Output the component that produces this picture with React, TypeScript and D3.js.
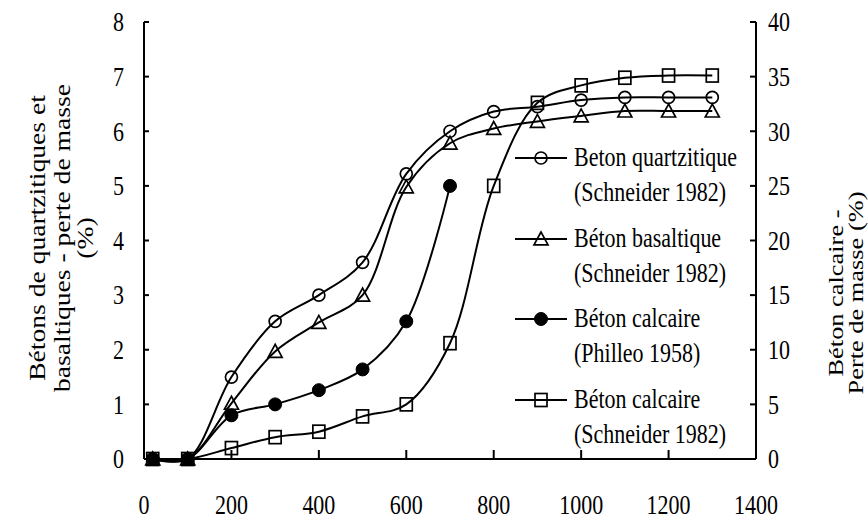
import React from "react";
import * as d3 from "d3";

const temps = [20, 100, 200, 300, 400, 500, 600, 700, 800, 900, 1000, 1100, 1200, 1300];
const quartzitique = [0, 0, 1.5, 2.52, 3.0, 3.6, 5.22, 6.0, 6.36, 6.45, 6.57, 6.62, 6.62, 6.62];
const basaltique = [0, 0, 1.02, 1.97, 2.5, 3.0, 4.98, 5.78, 6.05, 6.18, 6.28, 6.37, 6.37, 6.37];
const philleoTemps = [20, 100, 200, 300, 400, 500, 600, 700];
const calcairePhilleo = [0, 0, 4.0, 5.0, 6.3, 8.2, 12.6, 25.0];
const calcaireSchneider = [0, 0, 1.0, 2.0, 2.5, 3.9, 5.0, 10.6, 25.0, 32.6, 34.2, 34.9, 35.1, 35.1];

const xTicks = [0, 200, 400, 600, 800, 1000, 1200, 1400];
const yLeftTicks = [0, 1, 2, 3, 4, 5, 6, 7, 8];
const yRightTicks = [0, 5, 10, 15, 20, 25, 30, 35, 40];

const legendLabels = [
  ["Beton quartzitique", "(Schneider 1982)"],
  ["Béton basaltique", "(Schneider 1982)"],
  ["Béton calcaire", "(Philleo 1958)"],
  ["Béton calcaire", "(Schneider 1982)"],
];
const leftTitle = ["Bétons de quartzitiques et", "basaltiques - perte de masse", "(%)"];
const rightTitle = ["Béton calcaire -", "Perte de masse (%)"];

const FONT = "'Liberation Serif', 'Times New Roman', serif";
const SY = 1.2;

const x = d3.scaleLinear().domain([0, 1400]).range([144, 756]);
const yL = d3.scaleLinear().domain([0, 8]).range([459, 22]);
const yR = d3.scaleLinear().domain([0, 40]).range([459, 22]);

type MarkerKind = "circle" | "triangle" | "dot" | "square";

function Marker({ kind, cx, cy }: { kind: MarkerKind; cx: number; cy: number }) {
  const sw = 1.7;
  if (kind === "circle")
    return <circle cx={cx} cy={cy} r={6} fill="none" stroke="#000" strokeWidth={sw} />;
  if (kind === "dot") return <circle cx={cx} cy={cy} r={6.5} fill="#000" stroke="#000" strokeWidth={1} />;
  if (kind === "square")
    return <rect x={cx - 6} y={cy - 6.5} width={12} height={13} fill="none" stroke="#000" strokeWidth={sw} />;
  const s = 7;
  const pts = `${cx},${cy - s} ${cx - s},${cy + s * 0.85} ${cx + s},${cy + s * 0.85}`;
  return <polygon points={pts} fill="none" stroke="#000" strokeWidth={sw} />;
}

function HText({ x, y, anchor = "start", size = 22, children }: any) {
  return (
    <text
      transform={`translate(${x},${y}) scale(1,${SY})`}
      textAnchor={anchor}
      dy="0.35em"
      fontFamily={FONT}
      fontSize={size}
      fill="#000"
    >
      {children}
    </text>
  );
}

function VText({ x, y, size = 23, children }: any) {
  return (
    <text
      transform={`translate(${x},${y}) rotate(-90) scale(${SY},1)`}
      textAnchor="middle"
      fontFamily={FONT}
      fontSize={size}
      fill="#000"
    >
      {children}
    </text>
  );
}

export default function App() {
  const series: { xs: number[]; ys: number[]; y: d3.ScaleLinear<number, number>; kind: MarkerKind }[] = [
    { xs: temps, ys: calcaireSchneider, y: yR, kind: "square" },
    { xs: temps, ys: quartzitique, y: yL, kind: "circle" },
    { xs: temps, ys: basaltique, y: yL, kind: "triangle" },
    { xs: philleoTemps, ys: calcairePhilleo, y: yR, kind: "dot" },
  ];
  const legendKinds: MarkerKind[] = ["circle", "triangle", "dot", "square"];
  const legendY = [158, 239, 319, 400];

  const mkLine = (ys: d3.ScaleLinear<number, number>) =>
    d3
      .line<[number, number]>()
      .x((d) => x(d[0]))
      .y((d) => ys(d[1]))
      .curve(d3.curveCatmullRom.alpha(0.5));

  return (
    <svg width={868} height={521} style={{ display: "block", position: "absolute", left: 0, top: 0, background: "#fff" }}>
      <rect x={0} y={0} width={868} height={521} fill="#fff" />
      {/* axes */}
      <g stroke="#000" strokeWidth={2} fill="none">
        <line x1={x(0)} x2={x(0)} y1={yL(8)} y2={yL(0)} />
        <line x1={x(1400)} x2={x(1400)} y1={yR(40)} y2={yR(0)} />
        <line x1={x(0)} x2={x(1400)} y1={yL(0)} y2={yL(0)} />
        {yLeftTicks.map((t) => (
          <line key={"l" + t} x1={x(0)} x2={x(0) + 5} y1={yL(t)} y2={yL(t)} />
        ))}
        {yRightTicks.map((t) => (
          <line key={"r" + t} x1={x(1400) - 6} x2={x(1400)} y1={yR(t)} y2={yR(t)} />
        ))}
        {xTicks.slice(1, -1).map((t) => (
          <line key={"x" + t} x1={x(t)} x2={x(t)} y1={yL(0)} y2={yL(0) - 9} />
        ))}
      </g>
      {/* tick labels */}
      {yLeftTicks.map((t) => (
        <HText key={"ll" + t} x={124} y={yL(t)} anchor="end">
          {t}
        </HText>
      ))}
      {yRightTicks.map((t) => (
        <HText key={"rl" + t} x={768} y={yR(t)} anchor="start">
          {t}
        </HText>
      ))}
      {xTicks.map((t) => (
        <HText key={"xl" + t} x={x(t)} y={505} anchor="middle">
          {t}
        </HText>
      ))}
      {/* axis titles */}
      {leftTitle.map((s, i) => (
        <VText key={"lt" + i} x={[45, 70, 93][i]} y={238} size={23}>
          {s}
        </VText>
      ))}
      {rightTitle.map((s, i) => (
        <VText key={"rt" + i} x={[843, 863][i]} y={293} size={22}>
          {s}
        </VText>
      ))}
      {/* lines */}
      {series.map((s, i) => (
        <path
          key={"p" + i}
          d={mkLine(s.y)(s.xs.map((t, j) => [t, s.ys[j]]) as [number, number][]) || ""}
          fill="none"
          stroke="#000"
          strokeWidth={2}
        />
      ))}
      {/* markers */}
      {series.map((s, i) =>
        s.xs.map((t, j) => <Marker key={`m${i}-${j}`} kind={s.kind} cx={x(t)} cy={s.y(s.ys[j])} />)
      )}
      {/* legend */}
      {legendKinds.map((k, i) => (
        <g key={"lg" + i}>
          <line x1={515} x2={567} y1={legendY[i]} y2={legendY[i]} stroke="#000" strokeWidth={2} />
          <Marker kind={k} cx={541} cy={legendY[i]} />
          <HText x={574} y={legendY[i] - 1}>
            {legendLabels[i][0]}
          </HText>
          <HText x={574} y={legendY[i] + 34}>
            {legendLabels[i][1]}
          </HText>
        </g>
      ))}
    </svg>
  );
}
